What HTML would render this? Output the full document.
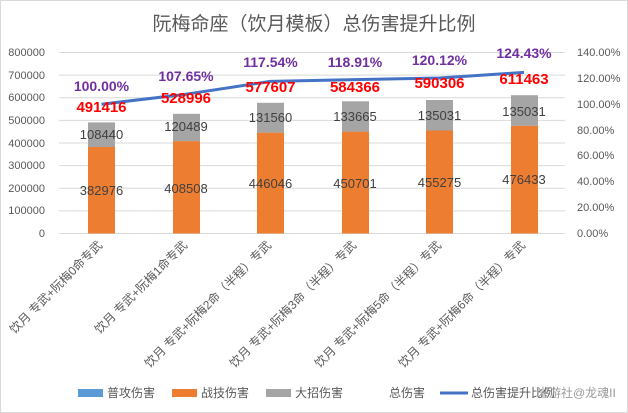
<!DOCTYPE html>
<html><head><meta charset="utf-8"><style>
body{margin:0;background:#fff}
svg{display:block;font-family:"Liberation Sans","Noto Sans CJK SC",sans-serif}
</style></head><body>
<svg width="628" height="413" viewBox="0 0 628 413" xmlns="http://www.w3.org/2000/svg">
<rect x="0.5" y="0.5" width="627" height="412" fill="#fff" stroke="#d9d9d9"/>
<text x="314" y="30" font-size="19" fill="#595959" text-anchor="middle">阮梅命座（饮月模板）总伤害提升比例</text>
<g stroke="#d9d9d9" stroke-width="1">
<line x1="59" x2="565" y1="52.5" y2="52.5"/><line x1="59" x2="565" y1="75.1" y2="75.1"/>
<line x1="59" x2="565" y1="97.8" y2="97.8"/><line x1="59" x2="565" y1="120.4" y2="120.4"/>
<line x1="59" x2="565" y1="143" y2="143"/><line x1="59" x2="565" y1="165.6" y2="165.6"/>
<line x1="59" x2="565" y1="188.3" y2="188.3"/><line x1="59" x2="565" y1="210.9" y2="210.9"/>
<line x1="59" x2="565" y1="233.5" y2="233.5"/>
</g>
<g font-size="11" fill="#595959" text-anchor="end">
<text x="45" y="56">800000</text><text x="45" y="79">700000</text><text x="45" y="101">600000</text>
<text x="45" y="124">500000</text><text x="45" y="147">400000</text><text x="45" y="169">300000</text>
<text x="45" y="192">200000</text><text x="45" y="214">100000</text><text x="45" y="237">0</text>
</g>
<g font-size="11" fill="#595959">
<text x="577" y="56">140.00%</text><text x="577" y="82">120.00%</text><text x="577" y="108">100.00%</text>
<text x="577" y="134">80.00%</text><text x="577" y="159">60.00%</text><text x="577" y="185">40.00%</text>
<text x="577" y="211">20.00%</text><text x="577" y="237">0.00%</text>
</g>
<g>
<rect x="88" y="147" width="27" height="86.5" fill="#ed7d31"/><rect x="88" y="122.4" width="27" height="24.6" fill="#a5a5a5"/>
<rect x="173" y="141.1" width="27" height="92.4" fill="#ed7d31"/><rect x="173" y="113.8" width="27" height="27.3" fill="#a5a5a5"/>
<rect x="257" y="132.6" width="27" height="100.9" fill="#ed7d31"/><rect x="257" y="102.8" width="27" height="29.8" fill="#a5a5a5"/>
<rect x="342" y="131.6" width="27" height="101.9" fill="#ed7d31"/><rect x="342" y="101.3" width="27" height="30.3" fill="#a5a5a5"/>
<rect x="426" y="130.5" width="27" height="103" fill="#ed7d31"/><rect x="426" y="100" width="27" height="30.5" fill="#a5a5a5"/>
<rect x="511" y="125.7" width="27" height="107.8" fill="#ed7d31"/><rect x="511" y="95.2" width="27" height="30.5" fill="#a5a5a5"/>
</g>
<polyline points="101.5,104.2 186,94.2 270.5,81.4 355,79.6 439.5,78 524,72.4" fill="none" stroke="#4472c4" stroke-width="3" stroke-linejoin="round"/>
<g font-size="13" fill="#404040" text-anchor="middle">
<text x="101.5" y="139">108440</text><text x="186" y="131">120489</text><text x="270.5" y="122">131560</text>
<text x="355" y="121">133665</text><text x="439.5" y="120">135031</text><text x="524" y="116">135031</text>
<text x="101.5" y="195">382976</text><text x="186" y="193">408508</text><text x="270.5" y="188">446046</text>
<text x="355" y="188">450701</text><text x="439.5" y="187">455275</text><text x="524" y="184">476433</text>
</g>
<g font-size="15" font-weight="bold" fill="#ff0000" text-anchor="middle">
<text x="101.5" y="112">491416</text><text x="186" y="103">528996</text><text x="270.5" y="92">577607</text>
<text x="355" y="92">584366</text><text x="439.5" y="88">590306</text><text x="524" y="84">611463</text>
</g>
<g font-size="14" font-weight="bold" fill="#7030a0" text-anchor="middle">
<text x="101.5" y="91">100.00%</text><text x="186" y="81">107.65%</text><text x="270.5" y="67">117.54%</text>
<text x="355" y="67">118.91%</text><text x="439.5" y="65">120.12%</text><text x="524" y="58">124.43%</text>
</g>
<g font-size="12" fill="#595959" text-anchor="end">
<text transform="translate(103,246) rotate(-45)">饮月 专武+阮梅0命专武</text>
<text transform="translate(188,246) rotate(-45)">饮月 专武+阮梅1命专武</text>
<text transform="translate(272,246) rotate(-45)">饮月 专武+阮梅2命（半程）专武</text>
<text transform="translate(357,246) rotate(-45)">饮月 专武+阮梅3命（半程）专武</text>
<text transform="translate(442,246) rotate(-45)">饮月 专武+阮梅5命（半程）专武</text>
<text transform="translate(526,246) rotate(-45)">饮月 专武+阮梅6命（半程）专武</text>
</g>
<g font-size="12" fill="#595959">
<rect x="78" y="389" width="25" height="8" fill="#5b9bd5"/><text x="107" y="397">普攻伤害</text>
<rect x="172" y="389" width="25" height="8" fill="#ed7d31"/><text x="201" y="397">战技伤害</text>
<rect x="266" y="389" width="25" height="8" fill="#a5a5a5"/><text x="295" y="397">大招伤害</text>
<text x="389" y="397">总伤害</text>
<line x1="440" x2="468" y1="393" y2="393" stroke="#4472c4" stroke-width="3"/><text x="471" y="397">总伤害提升比例</text>
<text x="537" y="397" fill="#9a9a9a">米游社@龙魂II</text>
</g>
</svg>
</body></html>
